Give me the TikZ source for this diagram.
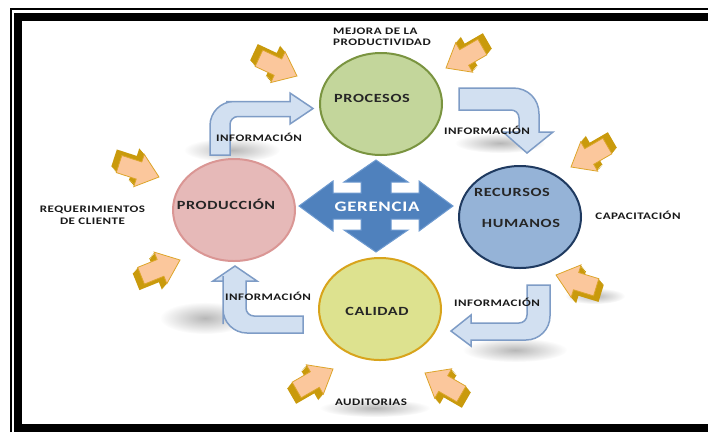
\documentclass[tikz,border=0pt]{standalone}
\usepackage{fontspec}
\usetikzlibrary{shapes.geometric,fadings}

\newfontfamily\tagfont[FakeStretch=1.3,LetterSpace=5]{Carlito}

\definecolor{procfill}{HTML}{C3D69B}
\definecolor{procline}{HTML}{7A9440}
\definecolor{prodfill}{HTML}{E6B9B8}
\definecolor{prodline}{HTML}{DA9694}
\definecolor{recfill}{HTML}{95B3D7}
\definecolor{recline}{HTML}{1F3A60}
\definecolor{calfill}{HTML}{DDE28F}
\definecolor{calline}{HTML}{D8A41C}
\definecolor{gerfill}{HTML}{4F81BD}
\definecolor{gerline}{HTML}{6E9AD0}
\definecolor{infofill}{HTML}{D2E0F1}
\definecolor{infoline}{HTML}{7E9CC6}
\definecolor{ptrface}{HTML}{FBC79C}
\definecolor{ptrline}{HTML}{DDA52A}
\definecolor{ptrdark}{HTML}{C99A0C}

\tikzfading[name=softspot, inner color=transparent!20, outer color=transparent!100]

\tikzset{
  stage/.style={ellipse, minimum width=122pt, minimum height=102pt, line width=2pt},
  stagetext/.style={font=\tagfont\bfseries\fontsize{12.5}{14}\selectfont, text=black!85},
  tag/.style={font=\tagfont\bfseries\fontsize{10}{11.5}\selectfont, text=black!90, inner sep=0pt},
  infoarrow/.style={fill=infofill, draw=infoline, line width=1.5pt},
  blur/.style={fill=black!35, path fading=softspot},
  ptrback/.style={fill=ptrdark},
  ptrfront/.style={fill=ptrface, draw=ptrline, line width=0.8pt},
}

\newcommand{\ptrshape}{(0,0) -- (-21,-17) -- (-21,-9) -- (-42,-9) -- (-42,9) -- (-21,9) -- (-21,17) -- cycle}

\begin{document}
\begin{tikzpicture}[x=1pt,y=-1pt]

  \useasboundingbox (0,0) rectangle (708,432);
  \fill[white] (0,0) rectangle (708,432);

  \draw[line width=2pt] (11,432) -- (11,8.5) -- (708,8.5);
  \draw[line width=8pt] (708,16.5) -- (18,16.5) -- (18,427.5) -- (708,427.5);

  \fill[blur] (232,150) ellipse (48 and 12);
  \fill[blur] (500,143) ellipse (45 and 10);
  \fill[blur] (205,318) ellipse (45 and 16);
  \fill[blur] (515,350) ellipse (52 and 12);
  \fill[blur] (375,408) ellipse (55 and 9);
  \fill[blur] (595,296) ellipse (30 and 8);

  \foreach \tx/\ty/\ang/\dx/\dy in {297/76/-25/-5/-6, 446/68/210/5/-6, 571/167/210/5/-6,
      556/275/163/5/6, 425/373/150/5/6, 333/369/30/-5/6, 180/260/22/-5/6, 159/177/-18/-5/-6} {
    \foreach \k in {0.2,0.4,...,1} {
      \begin{scope}[shift={(\tx+\k*\dx,\ty+\k*\dy)}, rotate=\ang]
        \fill[ptrback] \ptrshape;
      \end{scope}
    }
    \begin{scope}[shift={(\tx,\ty)}, rotate=\ang]
      \filldraw[ptrfront] \ptrshape;
    \end{scope}
  }

  \draw[infoarrow] (210,155) [rounded corners=24] -- (210,101.5) -- (250,101.5) [sharp corners]
    -- (290,101.5) -- (290,93) -- (313,108.5) -- (290,124) -- (290,116.5) -- (260,116.5)
    [rounded corners=8] -- (230,116.5) -- (230,135) [sharp corners] -- (230,155) -- cycle;
  \draw[infoarrow] (459,88) -- (513,88) .. controls (528,88) and (539,99) .. (539,114)
    -- (539,132) -- (553,132) -- (527,153) -- (503,132) -- (519,132) -- (519,118)
    .. controls (519,113) and (515,110) .. (511,110) -- (459,110) -- cycle;
  \draw[infoarrow] (527,285) -- (550,285) [rounded corners=24] -- (550,340) -- (500,340) [sharp corners]
    -- (471,340) -- (471,346) -- (451,331) -- (471,315) -- (471,323) -- (500,323)
    [rounded corners=8] -- (527,323) -- (527,300) [sharp corners] -- cycle;
  \draw[infoarrow] (303,316) -- (303,333) [rounded corners=24] -- (223,333) -- (223,300) [sharp corners]
    -- (223,281) -- (213,281) -- (235,266) -- (257,281) -- (246,281) -- (246,300)
    [rounded corners=8] -- (246,316) -- (270,316) [sharp corners] -- cycle;

  \node[stage, fill=procfill, draw=procline] (procesos) at (381,104) {};
  \node[stage, fill=prodfill, draw=prodline] (produccion) at (234,210) {};
  \node[stage, fill=recfill, draw=recline] (recursos) at (520,217) {};
  \node[stage, fill=calfill, draw=calline] (calidad) at (380,309) {};

  \begin{scope}[shift={(376,206)}]
    \filldraw[fill=gerfill, draw=gerline, line width=1pt] (-77,0) -- (-43,-25) -- (-43,-13) -- (-15,-13)
      -- (-15,-24) -- (-32,-24) -- (0,-46) -- (32,-24) -- (15,-24) -- (15,-13) -- (43,-13)
      -- (43,-25) -- (77,0) -- (43,25) -- (43,13) -- (15,13) -- (15,24) -- (32,24) -- (0,46)
      -- (-32,24) -- (-15,24) -- (-15,13) -- (-43,13) -- (-43,25) -- cycle;
  \end{scope}
  \node[font=\tagfont\bfseries\fontsize{14.5}{16}\selectfont, text=white] (gerencia) at (377,207) {GERENCIA};

  \node[stagetext] (procesostext) at (372,98) {PROCESOS};
  \node[stagetext] (producciontext) at (226,204) {PRODUCCIÓN};
  \node[stagetext] (recursostext) at (512,192) {RECURSOS};
  \node[stagetext] (humanostext) at (521,223) {HUMANOS};
  \node[stagetext] (calidadtext) at (377,311) {CALIDAD};

  \node[tag, align=left, anchor=west] (mejora) at (333,37) {MEJORA DE LA\\PRODUCTIVIDAD};
  \node[tag, align=center] (cliente) at (92.5,215) {REQUERIMIENTOS\\DE CLIENTE};
  \node[tag] (capacitacion) at (638,215) {CAPACITACIÓN};
  \node[tag] (auditorias) at (371,402) {AUDITORIAS};

  \node[tag] (infoa) at (259,137) {INFORMACIÓN};
  \node[tag] (infob) at (487,130) {INFORMACIÓN};
  \node[tag] (infoc) at (497,302) {INFORMACIÓN};
  \node[tag] (infod) at (268,296) {INFORMACIÓN};

\end{tikzpicture}
\end{document}
